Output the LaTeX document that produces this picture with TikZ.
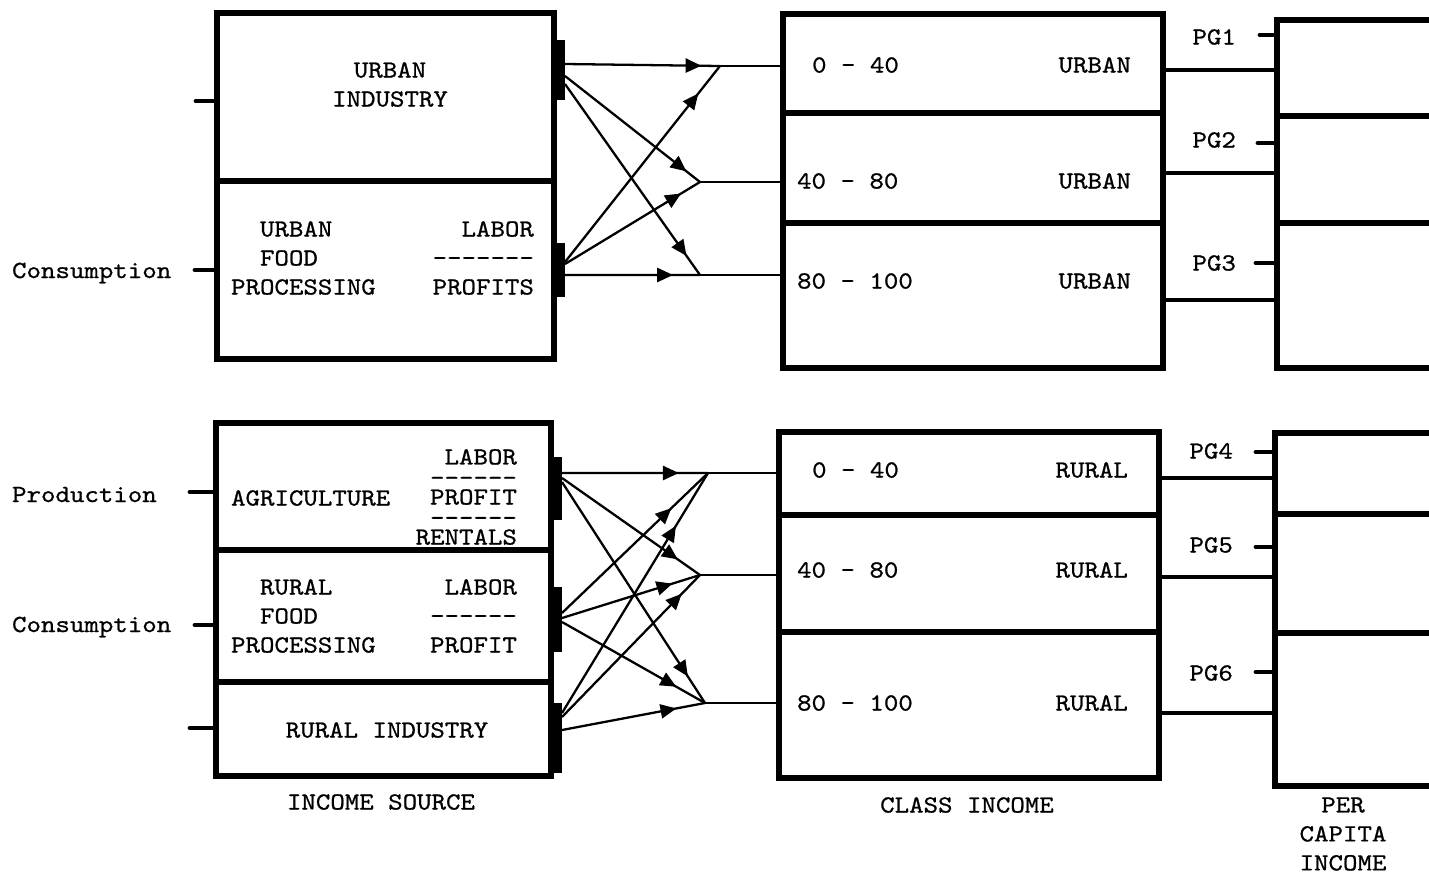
\documentclass[tikz,border=0pt]{standalone}
\usepackage{fontspec}
\usetikzlibrary{arrows.meta,decorations.markings,positioning}
\newfontfamily\typew[FakeStretch=1.12,FakeBold=0.8]{lmmono10-regular.otf}

\tikzset{
  blk/.style={draw, line width=3pt, inner sep=0pt, outer sep=0pt},
  outbar/.style={fill=black, inner sep=0pt, outer sep=0pt, minimum width=0.24cm},
  tab/.style={line width=2.8pt, line cap=round},
  link/.style={line width=2pt},
  feed/.style={line width=1.2pt},
  flow/.style={line width=1.3pt,
    decoration={markings, mark=at position #1 with {\arrow{Triangle[length=9pt,width=8pt]}}},
    postaction={decorate}},
  lbl/.style={font=\typew\fontsize{14}{16.5}\selectfont, inner sep=1pt}
}

\begin{document}
\begin{tikzpicture}[x=0.02cm, y=-0.02cm]
\clip (0,0) rectangle (1429,876);

% income source
\node[blk, minimum width=6.74cm, minimum height=3.36cm] (urbind) at (385.5,97) {};
\node[blk, minimum width=6.74cm, minimum height=3.56cm] (urbfood) at (385.5,270) {};
\node[blk, minimum width=6.7cm, minimum height=2.54cm] (agri) at (383.5,486.5) {};
\node[blk, minimum width=6.7cm, minimum height=2.64cm] (rurfood) at (383.5,616) {};
\node[blk, minimum width=6.7cm, minimum height=1.88cm] (rurind) at (383.5,729) {};

\node[outbar, minimum height=1.2cm] (bu1) at (559,70) {};
\node[outbar, minimum height=1.08cm] (bu2) at (559,270) {};
\node[outbar, minimum height=1.26cm] (bl1) at (556,488) {};
\node[outbar, minimum height=1.3cm] (bl2) at (556,619.5) {};
\node[outbar, minimum height=1.4cm] (bl3) at (556,738) {};

\node[lbl, align=center] (tui) at (390,84.5) {URBAN\\INDUSTRY};
\node[lbl, align=left, anchor=west] (tuf) at (229,258) {~~URBAN\\~~FOOD\\PROCESSING};
\node[lbl, align=right, anchor=east] (tufr) at (536,258) {LABOR\\-------\\PROFITS};
\node[lbl, anchor=west] (tag) at (229,498) {AGRICULTURE};
\node[lbl, align=right, anchor=east, font=\typew\fontsize{14}{11.4}\selectfont] (tagr) at (519,497)
  {LABOR\\[0.5pt]------\\[-0.5pt]PROFIT\\[0.5pt]------\\[-0.5pt]RENTALS};
\node[lbl, align=left, anchor=west] (trf) at (229,616) {~~RURAL\\~~FOOD\\PROCESSING};
\node[lbl, align=right, anchor=east] (trfr) at (519,616) {LABOR\\------\\PROFIT};
\node[lbl] (tri) at (387,730) {RURAL INDUSTRY};
\node[lbl] (tsrc) at (381,802) {INCOME SOURCE};

% left tabs
\coordinate (a1) at (196,101);
\coordinate (a2) at (195,270);
\coordinate (a3) at (190,492);
\coordinate (a4) at (195,625);
\coordinate (a5) at (190,728);
\draw[tab] (a1) -- (a1 -| urbind.west);
\draw[tab] (a2) -- (a2 -| urbfood.west);
\draw[tab] (a3) -- (a3 -| agri.west);
\draw[tab] (a4) -- (a4 -| rurfood.west);
\draw[tab] (a5) -- (a5 -| rurind.west);

\node[lbl, anchor=base west] (cons1) at (10,278) {Consumption};
\node[lbl, anchor=base west] (prod) at (10,502) {Production};
\node[lbl, anchor=base west] (cons2) at (10,632) {Consumption};

% class income
\node[blk, minimum width=7.6cm, minimum height=1.98cm] (cu1) at (973,63.5) {};
\node[blk, minimum width=7.6cm, minimum height=2.2cm] (cu2) at (973,168) {};
\node[blk, minimum width=7.6cm, minimum height=2.9cm] (cu3) at (973,295.5) {};
\node[blk, minimum width=7.6cm, minimum height=1.66cm] (cr1) at (969,473.5) {};
\node[blk, minimum width=7.6cm, minimum height=2.34cm] (cr2) at (969,573.5) {};
\node[blk, minimum width=7.6cm, minimum height=2.92cm] (cr3) at (969,705) {};

\node[lbl, anchor=west] (k1) at (810,65) {0 - 40};
\node[lbl, anchor=west] (k2) at (795,181) {40 - 80};
\node[lbl, anchor=west] (k3) at (795,281) {80 - 100};
\node[lbl, anchor=east] (u1) at (1133,65) {URBAN};
\node[lbl, anchor=east] (u2) at (1133,181) {URBAN};
\node[lbl, anchor=east] (u3) at (1133,281) {URBAN};
\node[lbl, anchor=west] (k4) at (810,470) {0 - 40};
\node[lbl, anchor=west] (k5) at (795,570) {40 - 80};
\node[lbl, anchor=west] (k6) at (795,703) {80 - 100};
\node[lbl, anchor=east] (r1) at (1130,470) {RURAL};
\node[lbl, anchor=east] (r2) at (1130,570) {RURAL};
\node[lbl, anchor=east] (r3) at (1130,703) {RURAL};
\node[lbl] (tcls) at (967,805) {CLASS INCOME};

% per capita
\node[blk, minimum width=3.26cm, minimum height=1.92cm] (pu1) at (1358.5,68) {};
\node[blk, minimum width=3.26cm, minimum height=2.14cm] (pu2) at (1358.5,169.5) {};
\node[blk, minimum width=3.26cm, minimum height=2.9cm] (pu3) at (1358.5,295.5) {};
\node[blk, minimum width=3.3cm, minimum height=1.62cm] (pr1) at (1357.5,473.5) {};
\node[blk, minimum width=3.3cm, minimum height=2.38cm] (pr2) at (1357.5,573.5) {};
\node[blk, minimum width=3.3cm, minimum height=3.06cm] (pr3) at (1357.5,709.5) {};
\node[lbl, align=center] (tpc) at (1343,834) {PER\\CAPITA\\INCOME};

\coordinate (g1) at (1260,35);
\coordinate (g2) at (1258,143);
\coordinate (g3) at (1256,263);
\coordinate (g4) at (1256,452);
\coordinate (g5) at (1256,547);
\coordinate (g6) at (1256,672);
\draw[tab] (g1) -- (g1 -| pu1.west);
\draw[tab] (g2) -- (g2 -| pu2.west);
\draw[tab] (g3) -- (g3 -| pu3.west);
\draw[tab] (g4) -- (g4 -| pr1.west);
\draw[tab] (g5) -- (g5 -| pr2.west);
\draw[tab] (g6) -- (g6 -| pr3.west);
\node[lbl, anchor=east] (pg1) at (1238,37) {PG1};
\node[lbl, anchor=east] (pg2) at (1238,140) {PG2};
\node[lbl, anchor=east] (pg3) at (1238,263) {PG3};
\node[lbl, anchor=east] (pg4) at (1235,451) {PG4};
\node[lbl, anchor=east] (pg5) at (1235,545) {PG5};
\node[lbl, anchor=east] (pg6) at (1235,673) {PG6};

% class -> per capita
\coordinate (o1) at (1163,70);
\coordinate (o2) at (1163,173);
\coordinate (o3) at (1163,300);
\coordinate (o4) at (1159,478);
\coordinate (o5) at (1159,577);
\coordinate (o6) at (1159,713);
\draw[link] (o1 -| cu1.east) -- (o1 -| pu1.west);
\draw[link] (o2 -| cu2.east) -- (o2 -| pu2.west);
\draw[link] (o3 -| cu3.east) -- (o3 -| pu3.west);
\draw[link] (o4 -| cr1.east) -- (o4 -| pr1.west);
\draw[link] (o5 -| cr2.east) -- (o5 -| pr2.west);
\draw[link] (o6 -| cr3.east) -- (o6 -| pr3.west);

% junctions
\coordinate (j1) at (720,66);
\coordinate (j2) at (700,182);
\coordinate (j3) at (700,275);
\coordinate (j4) at (708,473);
\coordinate (j5) at (700,575);
\coordinate (j6) at (705,703);
\draw[feed] (j1) -- (j1 -| cu1.west);
\draw[feed] (j2) -- (j2 -| cu2.west);
\draw[feed] (j3) -- (j3 -| cu3.west);
\draw[feed] (j4) -- (j4 -| cr1.west);
\draw[feed] (j5) -- (j5 -| cr2.west);
\draw[feed] (j6) -- (j6 -| cr3.west);

% urban flows
\draw[flow=0.88] ([yshift=1.2mm]bu1.east) -- (j1);
\draw[flow=0.9] ([yshift=-1.2mm]bu1.east) -- (j2);
\draw[flow=0.9] ([yshift=-2.8mm]bu1.east) -- (j3);
\draw[flow=0.86] ([yshift=1.6mm]bu2.east) -- (j1);
\draw[flow=0.86] ([yshift=1.2mm]bu2.east) -- (j2);
\draw[flow=0.8] ([yshift=-1mm]bu2.east) -- (j3);

% rural flows
\draw[flow=0.8] ([yshift=3mm]bl1.east) -- (j4);
\draw[flow=0.84] ([yshift=2mm]bl1.east) -- (j5);
\draw[flow=0.88] ([yshift=1.2mm]bl1.east) -- (j6);
\draw[flow=0.75] ([yshift=1.3mm]bl2.east) -- (j4);
\draw[flow=0.8] ([yshift=0.3mm]bl2.east) -- (j5);
\draw[flow=0.8] ([yshift=-0.5mm]bl2.east) -- (j6);
\draw[flow=0.78] ([yshift=5mm]bl3.east) -- (j4);
\draw[flow=0.87] ([yshift=4.2mm]bl3.east) -- (j5);
\draw[flow=0.8] ([yshift=1.6mm]bl3.east) -- (j6);
\end{tikzpicture}
\end{document}
